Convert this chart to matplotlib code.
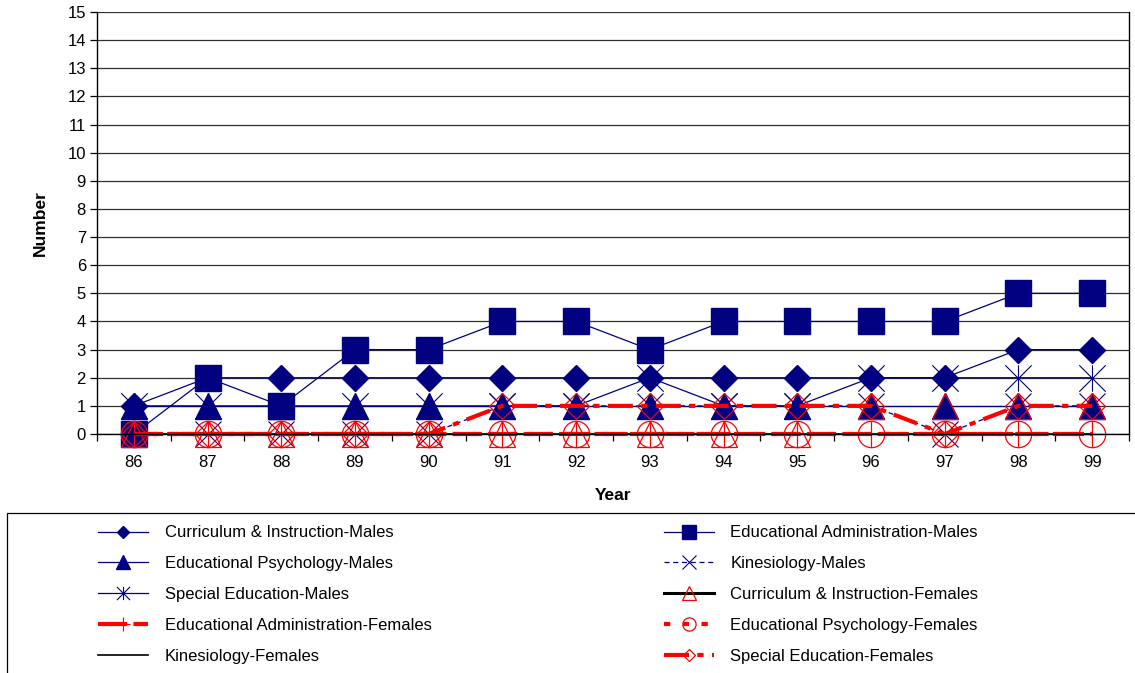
import matplotlib.pyplot as plt
import numpy as np
from matplotlib.path import Path
from matplotlib.patches import Rectangle
from matplotlib.lines import Line2D
import matplotlib as mpl

mpl.rcParams.update({'font.family': ['Liberation Sans', 'DejaVu Sans'], 'font.size': 12})

years = ['86', '87', '88', '89', '90', '91', '92', '93', '94', '95', '96', '97', '98', '99']

ci_m   = [1, 2, 2, 2, 2, 2, 2, 2, 2, 2, 2, 2, 3, 3]
ea_m   = [0, 2, 1, 3, 3, 4, 4, 3, 4, 4, 4, 4, 5, 5]
ep_m   = [1, 1, 1, 1, 1, 1, 1, 1, 1, 1, 1, 1, 1, 1]
kin_m  = [0, 0, 0, 0, 0, 1, 1, 1, 1, 1, 1, 0, 1, 1]
sped_m = [1, 1, 1, 1, 1, 1, 1, 2, 1, 1, 2, 2, 2, 2]
ci_f   = [0, 0, 0, 0, 0, 0, 0, 0, 0, 0, 1, 1, 1, 1]
ea_f   = [0, 0, 0, 0, 0, 0, 0, 0, 0, 0, 0, 0, 0, 0]
ep_f   = [0, 0, 0, 0, 0, 0, 0, 0, 0, 0, 0, 0, 0, 0]
kin_f  = [0, 0, 0, 0, 0, 0, 0, 0, 0, 0, 0, 0, 0, 0]
sped_f = [0, 0, 0, 0, 0, 1, 1, 1, 1, 1, 1, 0, 1, 1]

navy = '#000080'
red = '#FF0000'

# excel style asterisk: x plus vertical bar
asterisk = Path([(-1, -1), (1, 1), (-1, 1), (1, -1), (0, -1), (0, 1)],
                [Path.MOVETO, Path.LINETO] * 3)

fig = plt.figure(figsize=(11.35, 6.73), dpi=100)
ax = fig.add_axes([97/1135, 1-434/673, (1129-97)/1135, (434-12)/673])

x = np.arange(len(years))
kw = dict(clip_on=False)

h = {}
h['ci_m'], = ax.plot(x, ci_m, color=navy, lw=0.9, marker='D', ms=13, mfc=navy, mec=navy,
                     label='Curriculum & Instruction-Males', **kw)
h['ea_m'], = ax.plot(x, ea_m, color=navy, lw=0.9, marker='s', ms=19, mfc=navy, mec=navy,
                     label='Educational Administration-Males', **kw)
h['ep_m'], = ax.plot(x, ep_m, color=navy, lw=0.9, marker='^', ms=19, mfc=navy, mec=navy,
                     label='Educational Psychology-Males', **kw)
h['kin_m'], = ax.plot(x, kin_m, color=navy, lw=0.9, ls=(0, (4, 3)), marker='x', ms=19, mew=0.8,
                      mec=navy, label='Kinesiology-Males', **kw)
h['sped_m'], = ax.plot(x, sped_m, color=navy, lw=0.9, marker=asterisk, ms=19, mew=0.8,
                       mec=navy, label='Special Education-Males', **kw)
# connector of this series is hidden in the original chart; markers only
ax.plot(x, ci_f, ls='none', marker='^', ms=19, mfc='none', mec=red, mew=0.9, **kw)
h['ci_f'] = Line2D([], [], color='black', lw=2.2, marker='^', ms=19, mfc='none', mec=red,
                   mew=0.9, label='Curriculum & Instruction-Females')
h['ea_f'], = ax.plot(x, ea_f, color=red, lw=3, ls=(0, (7, 1.5)), marker='+', ms=19, mew=0.9,
                     mec=red, label='Educational Administration-Females', **kw)
h['ep_f'], = ax.plot(x, ep_f, color=red, lw=3, ls=(0, (1.5, 3)), marker='o', ms=19, mfc='none',
                     mec=red, mew=0.9, label='Educational Psychology-Females', **kw)
h['kin_f'], = ax.plot(x, kin_f, color='black', lw=1.2, zorder=1.9,
                      label='Kinesiology-Females', **kw)
h['sped_f'], = ax.plot(x, sped_f, color=red, lw=3, ls=(0, (6, 2, 1.5, 2)), marker='D', ms=13,
                       mfc='none', mec=red, mew=0.9, label='Special Education-Females', **kw)

ax.set_xlim(-0.5, len(years) - 0.5)
ax.set_ylim(0, 15)
ax.set_yticks(range(0, 16))
ax.yaxis.grid(True, color='#303030', lw=0.9)
ax.set_axisbelow(True)

# excel category axis: ticks between categories, labels centred
ax.set_xticks(np.arange(-0.5, len(years)), minor=False)
ax.set_xticklabels([])
ax.set_xticks(x, minor=True)
ax.set_xticklabels(years, minor=True)
ax.tick_params(axis='x', which='major', direction='out', length=5, width=0.9)
ax.tick_params(axis='x', which='minor', length=0, pad=15)
ax.tick_params(axis='y', direction='out', length=5, width=0.9, pad=3)

for s in ['left', 'bottom', 'right']:
    ax.spines[s].set_linewidth(1.0)
ax.spines['top'].set_visible(False)

ax.set_xlabel('Year', fontweight='bold', fontsize=12.5, labelpad=13)
ax.set_ylabel('Number', fontweight='bold', fontsize=12.5, labelpad=14)

# legend frame
fig.patches.append(Rectangle((7/1135, -0.05), 1.0, 1-513/673+0.05, transform=fig.transFigure,
                             fill=False, edgecolor='black', lw=0.9))

order = ['ci_m', 'ep_m', 'sped_m', 'ea_f', 'kin_f',
         'ea_m', 'kin_m', 'ci_f', 'ep_f', 'sped_f']
handles = [h[k] for k in order]
fig.legend(handles, [hh.get_label() for hh in handles], loc='upper left',
           bbox_to_anchor=(90/1135, 1-517/673), ncol=2, frameon=False,
           markerscale=0.5, handlelength=3.0, handletextpad=1.0,
           columnspacing=13.9, labelspacing=0.95, fontsize=12, borderpad=0)

fig.savefig('out.png', dpi=100)
